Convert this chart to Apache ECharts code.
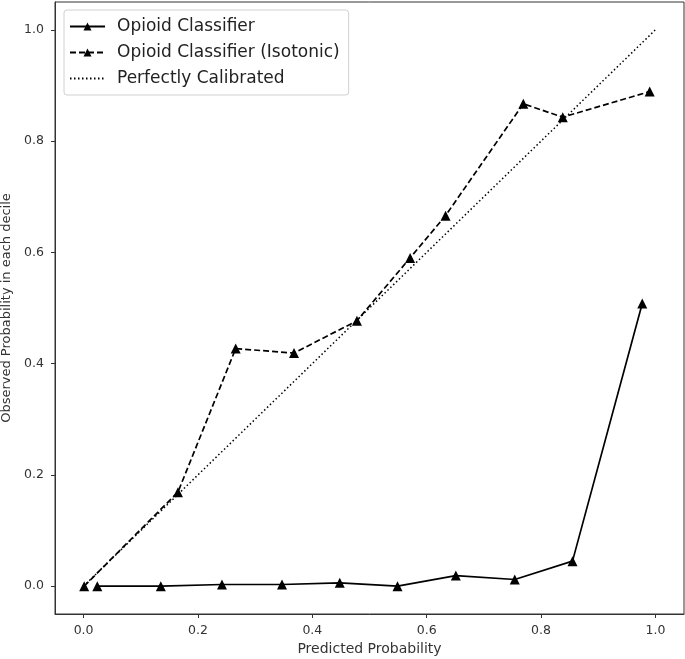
<!DOCTYPE html>
<html>
<head>
<meta charset="utf-8">
<script src="https://cdn.jsdelivr.net/npm/echarts@6/dist/echarts.min.js"></script>
<style>html,body{margin:0;padding:0;background:#fff;}#c{width:685px;height:659px;}</style>
</head>
<body>
<div id="c"></div>
<script>
const tickValues = [0, 0.2, 0.4, 0.6, 0.8, 1.0];
const rawX = [0.024, 0.135, 0.242, 0.347, 0.448, 0.549, 0.651, 0.754, 0.855, 0.977];
const rawY = [0.0, 0.0, 0.003, 0.003, 0.006, 0.0, 0.019, 0.012, 0.045, 0.508];
const isoX = [0.001, 0.165, 0.266, 0.368, 0.478, 0.571, 0.633, 0.769, 0.838, 0.990];
const isoY = [0.0, 0.169, 0.427, 0.419, 0.477, 0.590, 0.666, 0.867, 0.843, 0.889];
const perfX = [0, 1];
const perfY = [0, 1];
const seriesNames = ['Opioid Classifier', 'Opioid Classifier (Isotonic)', 'Perfectly Calibrated'];
const xTitle = 'Predicted Probability';
const yTitle = 'Observed Probability in each decile';

const zip = (a, b) => a.map((v, i) => [v, b[i]]);
const font = 'DejaVu Sans';
function axis(extra) {
  return Object.assign({
    type: 'value', min: -0.05, max: 1.05,
    splitLine: { show: false },
    axisLine: { show: true, onZero: false, lineStyle: { color: '#333', width: 1 } },
    axisTick: { show: true, inside: false, length: 4, customValues: tickValues, lineStyle: { color: '#333', width: 1 } },
    nameLocation: 'middle'
  }, extra);
}
const chart = echarts.init(document.getElementById('c'), null, { renderer: 'canvas' });
chart.setOption({
  animation: false,
  backgroundColor: '#fff',
  grid: { left: 55, right: 1, top: 2, bottom: 45, containLabel: false, outerBoundsMode: 'none',
          show: true, borderColor: '#333', borderWidth: 1, backgroundColor: 'transparent' },
  xAxis: axis({
    name: xTitle, nameGap: 28,
    nameTextStyle: { color: '#333', fontFamily: font, fontSize: 14 },
    axisLabel: { customValues: tickValues, formatter: v => v.toFixed(1), color: '#333', fontFamily: font, fontSize: 12.5, margin: 10 }
  }),
  yAxis: axis({
    name: yTitle, nameGap: 41,
    nameTextStyle: { color: '#333', fontFamily: font, fontSize: 13 },
    axisLabel: { customValues: tickValues, formatter: v => v.toFixed(1), color: '#333', fontFamily: font, fontSize: 12.5, margin: 11 }
  }),
  legend: {
    orient: 'vertical', left: 64, top: 10,
    backgroundColor: '#fff', borderColor: '#d0d0d0', borderWidth: 1, borderRadius: 3,
    padding: [8, 9, 8, 5], itemGap: 9, itemWidth: 35, itemHeight: 10,
    textStyle: { fontFamily: font, fontSize: 17, color: '#222', padding: [0, 0, 0, 7] },
    data: [
      { name: seriesNames[0] },
      { name: seriesNames[1] },
      { name: seriesNames[2], itemStyle: { opacity: 0 } }
    ]
  },
  series: [
    { name: seriesNames[0], type: 'line', data: zip(rawX, rawY), symbol: 'triangle', symbolSize: 10,
      lineStyle: { color: '#000', width: 1.7, type: 'solid' }, itemStyle: { color: '#000' } },
    { name: seriesNames[1], type: 'line', data: zip(isoX, isoY), symbol: 'triangle', symbolSize: 10,
      lineStyle: { color: '#000', width: 1.7, type: [6, 3] }, itemStyle: { color: '#000' } },
    { name: seriesNames[2], type: 'line', data: zip(perfX, perfY), symbol: 'none', showSymbol: false,
      lineStyle: { color: '#000', width: 1.5, type: [1.5, 2.5] }, itemStyle: { color: '#000' } }
  ]
});
</script>
</body>
</html>
